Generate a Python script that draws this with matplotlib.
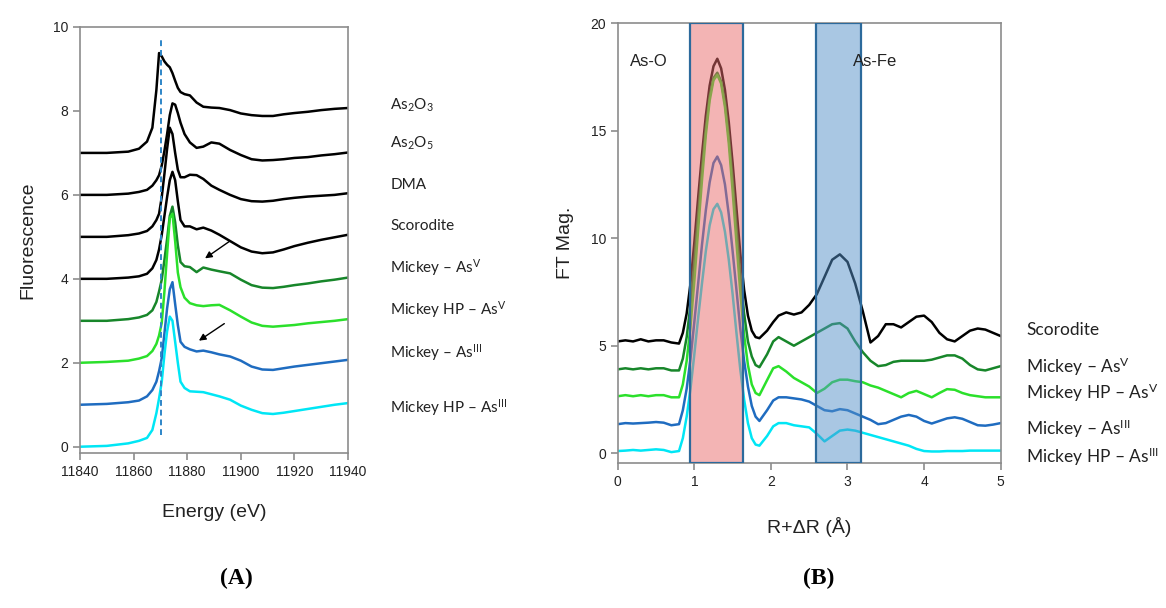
import matplotlib
matplotlib.use("Agg")
from matplotlib import pyplot as plt

# ---- panel A: XANES spectra (offset), energy in eV
energy = [11840, 11850, 11858, 11862, 11865, 11867, 11868.5, 11869.5, 11870.5,
          11871.5, 11872.5, 11873.5, 11874.5, 11875.5, 11876.5, 11877.5, 11879,
          11881, 11883.5, 11886, 11889, 11892, 11896, 11900, 11904, 11908,
          11912, 11916, 11920, 11925, 11930, 11935, 11940]

as2o3 = [7.0, 7.0, 7.03, 7.1, 7.27, 7.6, 8.5, 9.38, 9.3, 9.18, 9.1, 9.04, 8.9,
         8.72, 8.55, 8.45, 8.4, 8.37, 8.2, 8.1, 8.08, 8.07, 8.02, 7.94, 7.9,
         7.88, 7.88, 7.92, 7.95, 7.98, 8.02, 8.05, 8.07]
as2o5 = [6.0, 6.0, 6.03, 6.07, 6.12, 6.22, 6.35, 6.47, 6.7, 7.05, 7.45, 7.9,
         8.18, 8.15, 7.95, 7.72, 7.45, 7.25, 7.12, 7.15, 7.25, 7.22, 7.07, 6.95,
         6.85, 6.82, 6.83, 6.85, 6.88, 6.9, 6.94, 6.97, 7.01]
dma = [5.0, 5.0, 5.04, 5.08, 5.14, 5.25, 5.4, 5.55, 5.95, 6.5, 7.1, 7.6, 7.45,
       7.0, 6.6, 6.42, 6.42, 6.48, 6.47, 6.38, 6.22, 6.12, 6.0, 5.9, 5.85,
       5.84, 5.86, 5.9, 5.93, 5.96, 5.98, 6.0, 6.04]
scorodite_a = [4.0, 4.0, 4.03, 4.06, 4.12, 4.25, 4.45, 4.7, 5.05, 5.5, 5.95,
               6.35, 6.55, 6.35, 5.85, 5.4, 5.25, 5.25, 5.18, 5.22, 5.15, 5.05,
               4.9, 4.75, 4.65, 4.61, 4.63, 4.7, 4.78, 4.86, 4.93, 4.99, 5.05]
mickey_v_a = [3.0, 3.0, 3.04, 3.08, 3.14, 3.25, 3.45, 3.7, 3.98, 4.45, 4.95,
              5.5, 5.72, 5.35, 4.8, 4.4, 4.3, 4.28, 4.16, 4.27, 4.22, 4.18,
              4.13, 3.98, 3.85, 3.79, 3.78, 3.81, 3.85, 3.89, 3.94, 3.98, 4.03]
mickey_hp_v_a = [2.0, 2.02, 2.05, 2.1, 2.16, 2.28, 2.45, 2.65, 2.95, 3.7, 4.6,
                 5.45, 5.55, 4.9, 4.15, 3.8, 3.55, 3.42, 3.37, 3.35, 3.37, 3.38,
                 3.25, 3.1, 2.96, 2.88, 2.86, 2.88, 2.9, 2.94, 2.97, 3.0, 3.04]
mickey_iii_a = [1.0, 1.02, 1.06, 1.1, 1.2, 1.35, 1.55, 1.8, 2.11, 2.7, 3.3,
                3.75, 3.92, 3.4, 2.9, 2.5, 2.38, 2.32, 2.27, 2.29, 2.25, 2.2,
                2.15, 2.05, 1.91, 1.84, 1.83, 1.87, 1.91, 1.95, 1.99, 2.03, 2.07]
mickey_hp_iii_a = [0.0, 0.02, 0.08, 0.14, 0.21, 0.4, 0.8, 1.15, 1.55, 2.2, 2.75,
                   3.1, 3.0, 2.5, 2.0, 1.55, 1.4, 1.32, 1.31, 1.3, 1.25, 1.2,
                   1.12, 0.98, 0.88, 0.8, 0.78, 0.81, 0.85, 0.9, 0.95, 1.0, 1.04]

labels_a = ["As$_2$O$_3$", "As$_2$O$_5$", "DMA", "Scorodite",
            "Mickey \u2013 As$^{\\mathrm{V}}$", "Mickey HP \u2013 As$^{\\mathrm{V}}$",
            "Mickey \u2013 As$^{\\mathrm{III}}$", "Mickey HP \u2013 As$^{\\mathrm{III}}$"]
label_y_a = [8.14, 7.22, 6.24, 5.25, 4.26, 3.26, 2.24, 0.93]
edge_energy = 11870.2
edge_span = [0.29, 9.69]
arrows_a = [((11896.6, 4.93), (11885.8, 4.45)),
            ((11894.7, 2.97), (11883.5, 2.49))]

# ---- panel B: Fourier transform magnitude
r = [0, 0.1, 0.2, 0.3, 0.4, 0.5, 0.6, 0.7, 0.8, 0.85, 0.9, 0.95, 1.0, 1.05,
     1.1, 1.15, 1.2, 1.25, 1.3, 1.35, 1.4, 1.45, 1.5, 1.55, 1.6, 1.65, 1.7,
     1.75, 1.8, 1.85, 1.95, 2.03, 2.1, 2.2, 2.3, 2.4, 2.5, 2.6, 2.7, 2.8, 2.9,
     3.0, 3.1, 3.2, 3.3, 3.4, 3.5, 3.6, 3.7, 3.8, 3.9, 4.0, 4.1, 4.2, 4.3, 4.4,
     4.5, 4.6, 4.7, 4.8, 4.9, 5.0]

scorodite_b = [5.2, 5.25, 5.2, 5.3, 5.2, 5.25, 5.25, 5.15,
               5.1, 5.6, 6.5, 7.9, 9.8, 11.9, 13.9, 15.7, 17.1, 18.0, 18.35,
               17.9, 16.9, 15.4, 13.5, 11.4, 9.3, 7.6, 6.4, 5.7, 5.4, 5.35,
               5.7, 6.1, 6.4, 6.55, 6.45, 6.55, 6.9, 7.4, 8.2, 9.0, 9.25,
               8.9, 7.9, 6.6, 5.15, 5.45, 6.0, 6.0, 5.85, 6.1, 6.35, 6.4, 6.1,
               5.6, 5.3, 5.2, 5.45, 5.7, 5.8, 5.75, 5.6, 5.45]
mickey_v_b = [3.9, 3.95, 3.9, 3.95, 3.9, 3.95, 3.95, 3.85,
              3.85, 4.4, 5.4, 6.9, 8.9, 11.1, 13.2, 15.1, 16.6, 17.45, 17.7,
              17.3, 16.3, 14.7, 12.7, 10.5, 8.3, 6.5, 5.2, 4.5, 4.1, 4.0,
              4.6, 5.2, 5.4, 5.2, 5.0, 5.2, 5.4, 5.6, 5.8, 6.0, 6.05, 5.8,
              5.2, 4.7, 4.3, 4.05, 4.1, 4.25, 4.3, 4.3, 4.3, 4.3, 4.35, 4.45,
              4.55, 4.55, 4.4, 4.1, 3.9, 3.85, 3.95, 4.05]
mickey_hp_v_b = [2.65, 2.7, 2.65, 2.7, 2.65, 2.7, 2.7, 2.6,
                 2.6, 3.2, 4.3, 5.9, 8.0, 10.4, 12.7, 14.8, 16.4, 17.35, 17.6,
                 17.2, 16.1, 14.4, 12.2, 9.8, 7.5, 5.5, 4.1, 3.2, 2.8, 2.7,
                 3.4, 3.95, 4.05, 3.8, 3.5, 3.3, 3.1, 2.8, 3.0, 3.3, 3.42,
                 3.42, 3.35, 3.3, 3.15, 3.05, 2.9, 2.75, 2.6, 2.8, 2.9, 2.75,
                 2.6, 2.8, 2.98, 2.95, 2.8, 2.7, 2.65, 2.6, 2.6, 2.6]
mickey_iii_b = [1.35, 1.4, 1.38, 1.4, 1.42, 1.45, 1.42, 1.3,
                1.35, 2.0, 3.0, 4.4, 6.1, 7.9, 9.7, 11.3, 12.6, 13.5, 13.8,
                13.4, 12.5, 11.1, 9.4, 7.6, 5.8, 4.3, 3.1, 2.2, 1.7, 1.5,
                2.0, 2.45, 2.6, 2.6, 2.55, 2.5, 2.4, 2.2, 2.0, 1.95, 2.05,
                2.0, 1.85, 1.7, 1.55, 1.35, 1.4, 1.55, 1.7, 1.78, 1.7, 1.5,
                1.38, 1.5, 1.62, 1.67, 1.6, 1.45, 1.3, 1.28, 1.33, 1.4]
mickey_hp_iii_b = [0.1, 0.12, 0.15, 0.12, 0.15, 0.18, 0.15, 0.05,
                   0.1, 0.7, 1.7, 3.0, 4.6, 6.3, 7.9, 9.4, 10.6, 11.35, 11.6,
                   11.2, 10.3, 9.0, 7.4, 5.6, 3.9, 2.5, 1.4, 0.7, 0.4, 0.35,
                   0.8, 1.25, 1.4, 1.4, 1.3, 1.25, 1.2, 0.9,
                   0.55, 0.8, 1.05, 1.1, 1.05, 0.95, 0.85, 0.75, 0.65, 0.55,
                   0.45, 0.35, 0.2, 0.1, 0.08, 0.08, 0.1, 0.1, 0.1, 0.12, 0.12,
                   0.12, 0.12, 0.12]

labels_b = ["Scorodite", "Mickey \u2013 As$^{\\mathrm{V}}$",
            "Mickey HP \u2013 As$^{\\mathrm{V}}$", "Mickey \u2013 As$^{\\mathrm{III}}$",
            "Mickey HP \u2013 As$^{\\mathrm{III}}$"]
label_y_b = [5.74, 4.02, 2.81, 1.13, -0.17]
shell_o = (0.94, 1.64)
shell_fe = (2.59, 3.18)

colors = ["black", "black", "black", "black", "#17862a", "#2be02b", "#1f6cc0", "#00e6f5"]

plt.rcParams['font.family'] = ['Liberation Sans', 'DejaVu Sans']
plt.rcParams['mathtext.fontset'] = 'custom'
plt.rcParams['mathtext.rm'] = 'Lato'
plt.rcParams['mathtext.default'] = 'rm'

fig = plt.figure(figsize=(11.66, 6.08), dpi=100)
axA = fig.add_axes([0.0686, 0.2549, 0.2299, 0.7007])
axB = fig.add_axes([0.5298, 0.2380, 0.3284, 0.7237])

for ax in (axA, axB):
    for s in ax.spines.values():
        s.set_color("#8c8c8c")
        s.set_linewidth(1.2)
    ax.tick_params(direction='out', length=5, width=1.2, color="#8c8c8c",
                   labelsize=10, labelcolor="#222222")

# panel A
series_a = [as2o3, as2o5, dma, scorodite_a, mickey_v_a, mickey_hp_v_a,
            mickey_iii_a, mickey_hp_iii_a]
for ys, c in zip(series_a, colors):
    axA.plot(energy, ys, color=c, lw=1.8, solid_joinstyle='round')
axA.plot([edge_energy, edge_energy], edge_span, color="#2e86c8", lw=1.4,
         ls=(0, (3, 2)))
for (xs, ys), (xe, ye) in arrows_a:
    axA.annotate("", xy=(xe, ye), xytext=(xs, ys),
                 arrowprops=dict(arrowstyle="-|>", color="black", lw=1.0,
                                 mutation_scale=10))
for txt, y in zip(labels_a, label_y_a):
    axA.text(11955.7, y, txt, fontsize=11, family='Lato', va='center',
             color="#222222", clip_on=False)
axA.set_xlim(11840, 11940)
axA.set_ylim(-0.15, 10)
axA.set_xticks(range(11840, 11941, 20))
axA.set_yticks(range(0, 11, 2))
axA.set_xlabel("Energy (eV)", fontsize=14, labelpad=18, color="#222222")
axA.set_ylabel("Fluorescence", fontsize=14, labelpad=12, color="#222222")

# panel B
series_b = [scorodite_b, mickey_v_b, mickey_hp_v_b, mickey_iii_b, mickey_hp_iii_b]
for ys, c in zip(series_b, ["black"] + colors[4:]):
    axB.plot(r, ys, color=c, lw=1.8, solid_joinstyle='round')
axB.axvspan(*shell_o, facecolor=(0.91, 0.42, 0.42, 0.5), edgecolor="#2c6a9c",
            lw=1.6, zorder=3)
axB.axvspan(*shell_fe, facecolor=(0.33, 0.57, 0.79, 0.5), edgecolor="#2c6a9c",
            lw=1.6, zorder=3)
axB.text(0.16, 18.2, "As-O", fontsize=12, va='center', color="#222222")
axB.text(3.07, 18.2, "As-Fe", fontsize=12, va='center', color="#222222")
for txt, y in zip(labels_b, label_y_b):
    axB.text(5.33, y, txt, fontsize=12.5, family='Lato', va='center',
             color="#222222", clip_on=False)
axB.set_xlim(0, 5)
axB.set_ylim(-0.47, 20)
axB.set_xticks(range(0, 6))
axB.set_yticks(range(0, 21, 5))
axB.set_xlabel("R+\u0394R (\u00c5)", fontsize=14, labelpad=20, color="#222222")
axB.set_ylabel("FT Mag.", fontsize=14, labelpad=12, color="#222222")

# panel captions
fig.text(236 / 1166, 1 - 578 / 608, "(A)", family='Liberation Serif',
         fontweight='bold', fontsize=17, ha='center', va='center')
fig.text(819 / 1166, 1 - 578 / 608, "(B)", family='Liberation Serif',
         fontweight='bold', fontsize=17, ha='center', va='center')

fig.savefig("out.png", dpi=100)
